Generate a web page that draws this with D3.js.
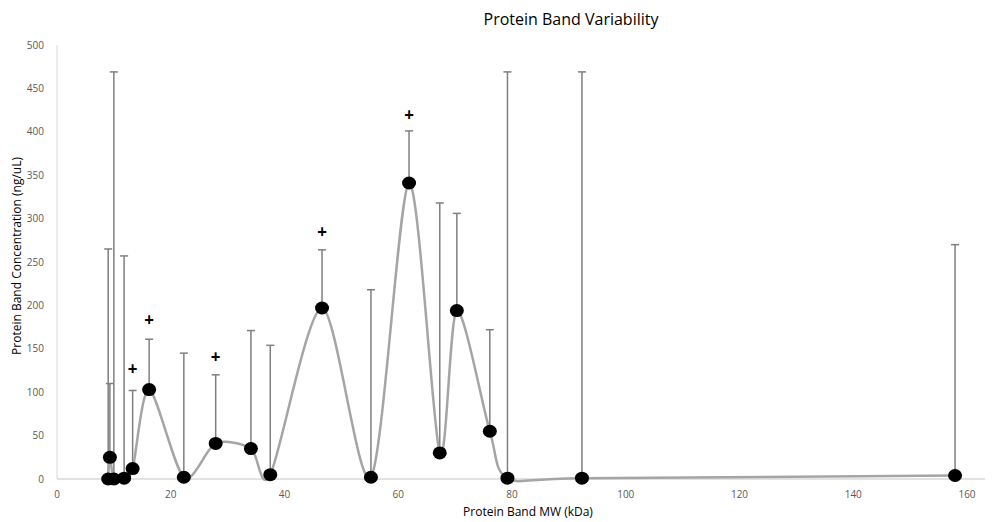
<!DOCTYPE html>
<html>
<head>
<meta charset="utf-8">
<script src="https://cdn.jsdelivr.net/npm/d3@7"></script>
<style>
  body { margin: 0; background: #fff; }
  text { font-family: "Open Sans", sans-serif; }
</style>
</head>
<body>
<div id="chart"></div>
<script>
// band data
var bandMW = [9.0, 9.3, 10.0, 11.8, 13.3, 16.2, 22.3, 27.9, 34.1, 37.5, 46.6, 55.2, 61.9, 67.3, 70.3, 76.1, 79.2, 92.3, 157.9];
var bandConc = [0, 25, 0, 1, 12, 103, 2, 41, 35, 5, 197, 2, 341, 30, 194, 55, 1, 1, 4];
var bandErrTop = [265, 110, 469, 257, 102, 161, 145, 120, 171, 154, 264, 218, 401, 318, 306, 172, 469, 469, 270];
// significance markers
var plusMW = [13.3, 16.2, 27.9, 46.6, 61.9];
var plusConc = [127, 183, 141, 285, 419];
var xTicks = [0, 20, 40, 60, 80, 100, 120, 140, 160];
var yTicks = [0, 50, 100, 150, 200, 250, 300, 350, 400, 450, 500];

var svgWidth = 992;
var svgHeight = 522;

var svg = d3.select('#chart')
    .append('svg')
    .attr('width', svgWidth)
    .attr('height', svgHeight);

svg.append('rect')
    .attr('width', svgWidth)
    .attr('height', svgHeight)
    .attr('fill', '#fff');

var xScale = d3.scaleLinear().domain([0, 160]).range([57, 967]);
var yScale = d3.scaleLinear().domain([0, 500]).range([479, 45]);

var points = bandMW.map(function (d, i) {
    return { mw: d, conc: bandConc[i], top: bandErrTop[i] };
});

// axis lines
svg.append('line')
    .attr('x1', xScale(0)).attr('x2', xScale(0))
    .attr('y1', yScale(500)).attr('y2', yScale(0))
    .attr('stroke', '#d9d9d9').attr('stroke-width', 1);

svg.append('line')
    .attr('x1', xScale(0)).attr('x2', 985)
    .attr('y1', yScale(0)).attr('y2', yScale(0))
    .attr('stroke', '#d9d9d9').attr('stroke-width', 1.5);

// tick labels
svg.selectAll('.ytick')
    .data(yTicks)
    .enter()
    .append('text')
    .attr('x', 44)
    .attr('y', d => yScale(d) + 3.5)
    .attr('text-anchor', 'end')
    .attr('font-size', '10px')
    .attr('fill', '#595959')
    .text(d => d);

svg.selectAll('.xtick')
    .data(xTicks)
    .enter()
    .append('text')
    .attr('x', d => xScale(d))
    .attr('y', 498)
    .attr('text-anchor', 'middle')
    .attr('font-size', '10px')
    .attr('fill', '#595959')
    .text(d => d);

// error bars (plus direction only)
var bars = svg.append('g');
bars.selectAll('line.err')
    .data(points)
    .enter()
    .append('line')
    .attr('x1', d => xScale(d.mw)).attr('x2', d => xScale(d.mw))
    .attr('y1', d => yScale(d.conc)).attr('y2', d => yScale(d.top))
    .attr('stroke', '#7f7f7f').attr('stroke-width', 1.5);

bars.selectAll('line.cap')
    .data(points)
    .enter()
    .append('line')
    .attr('x1', d => xScale(d.mw) - 4).attr('x2', d => xScale(d.mw) + 4)
    .attr('y1', d => yScale(d.top)).attr('y2', d => yScale(d.top))
    .attr('stroke', '#7f7f7f').attr('stroke-width', 1.5);

// smoothed line
var line = d3.line()
    .x(d => xScale(d.mw))
    .y(d => yScale(d.conc))
    .curve(d3.curveCardinal.tension(0.15));

svg.append('path')
    .datum(points)
    .attr('d', line)
    .attr('fill', 'none')
    .attr('stroke', '#a5a5a5')
    .attr('stroke-width', 2.5);

// markers
svg.selectAll('ellipse')
    .data(points)
    .enter()
    .append('ellipse')
    .attr('cx', d => xScale(d.mw))
    .attr('cy', d => yScale(d.conc))
    .attr('rx', 7)
    .attr('ry', 6.5)
    .attr('fill', '#000');

// + markers
svg.selectAll('.plus')
    .data(plusMW)
    .enter()
    .append('text')
    .attr('x', d => xScale(d))
    .attr('y', (d, i) => yScale(plusConc[i]) + 6)
    .attr('text-anchor', 'middle')
    .attr('font-size', '17px')
    .attr('font-weight', 'bold')
    .attr('fill', '#000')
    .text('+');

// titles
svg.append('text')
    .attr('x', 571)
    .attr('y', 25)
    .attr('text-anchor', 'middle')
    .attr('font-size', '16px')
    .attr('fill', '#000')
    .text('Protein Band Variability');

svg.append('text')
    .attr('x', 528)
    .attr('y', 516)
    .attr('text-anchor', 'middle')
    .attr('font-size', '12px')
    .attr('fill', '#000')
    .text('Protein Band MW (kDa)');

svg.append('text')
    .attr('transform', 'translate(21, 256) rotate(-90)')
    .attr('text-anchor', 'middle')
    .attr('font-size', '12px')
    .attr('fill', '#000')
    .text('Protein Band Concentration (ng/uL)');
</script>
</body>
</html>
